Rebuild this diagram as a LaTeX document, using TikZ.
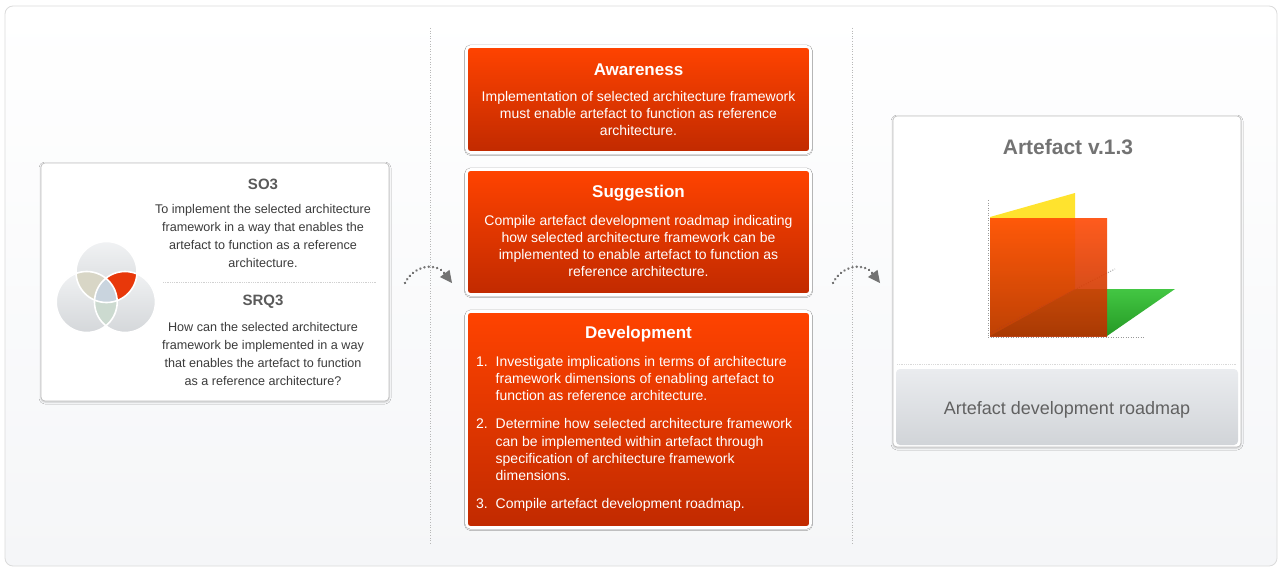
\documentclass[tikz,border=0pt]{standalone}
\usepackage{fontspec}
\setmainfont{Liberation Sans}
\usetikzlibrary{shadows.blur,arrows.meta}

\definecolor{redtop}{HTML}{FF4300}
\definecolor{redbot}{HTML}{C12A00}
\definecolor{panelbot}{HTML}{F5F6F8}
\definecolor{barTop}{HTML}{EAECEF}
\definecolor{barBot}{HTML}{D1D4D8}
\definecolor{txtdark}{HTML}{3C3C3C}
\definecolor{txtgray}{HTML}{5A5A5A}
\definecolor{venngray}{HTML}{E2E5E8}
\definecolor{vennred}{HTML}{E8380A}
\definecolor{vennbeige}{HTML}{D8D6C6}
\definecolor{venngreen}{HTML}{CCDAD0}
\definecolor{vennblue}{HTML}{C9D4DE}
\definecolor{planeyellow}{HTML}{FFE32E}
\definecolor{planegreen}{HTML}{2EC02E}
\definecolor{planered}{HTML}{FF4A05}
\definecolor{planeredbot}{HTML}{B83000}

\begin{document}
\begin{tikzpicture}[x=1pt,y=-1pt,
  panel/.style={rounded corners=8pt, draw=black!14, line width=0.8pt, top color=white, bottom color=panelbot},
  sepline/.style={draw=black!28, line width=0.8pt, dash pattern=on 1pt off 1.6pt},
  card/.style={rectangle, rounded corners=4pt, inner sep=0pt, fill=white, draw=black!25, line width=0.7pt,
    blur shadow={shadow xshift=0pt, shadow yshift=-1pt, shadow blur radius=2pt, shadow opacity=22}},
  redbox/.style={rectangle, rounded corners=4pt, inner sep=0pt, top color=redtop, bottom color=redbot,
    draw=white, line width=2.6pt, preaction={draw=black!25, line width=3.6pt},
    blur shadow={shadow xshift=0pt, shadow yshift=-1pt, shadow blur radius=2pt, shadow opacity=28}},
  bar/.style={rectangle, rounded corners=4pt, inner sep=0pt, top color=barTop, bottom color=barBot},
  boxtitle/.style={font=\bfseries\fontsize{17}{20}\selectfont, text=white, inner sep=0pt},
  boxbody/.style={font=\fontsize{14}{17}\selectfont, text=white, align=center, inner sep=0pt},
  listbody/.style={font=\fontsize{14}{17.3}\selectfont, text=white, align=left, inner sep=0pt, anchor=north west},
  sotitle/.style={font=\bfseries\fontsize{15}{17}\selectfont, text=txtgray, inner sep=0pt},
  sobody/.style={font=\fontsize{12.6}{17.7}\selectfont, text=txtdark, align=center, inner sep=0pt},
  flow/.style={draw=black!55, line width=2.6pt, line cap=round, dash pattern=on 0.1pt off 4.2pt,
    -{Triangle[length=12pt,width=12pt,line width=0pt,color=black!55,fill=black!55]}},
  axis/.style={draw=black!40, line width=1pt, dash pattern=on 1pt off 1.5pt}
]
\useasboundingbox (0,0) rectangle (1279,567);
\fill[white] (0,0) rectangle (1279,567);

% background panel and column separators
\draw[panel] (5,6) rectangle (1277,566);
\draw[sepline] (430,28) -- (430,545);
\draw[sepline] (852,28) -- (852,545);

% ---------- left card: objective and research question ----------
\node[card, minimum width=348pt, minimum height=238pt] (sobox) at (215,282) {};
\node[sotitle] (so) at (263,184) {SO3};
\node[sobody] (sotext) at (263,236) {To implement the selected architecture\\framework in a way that enables the\\artefact to function as a reference\\architecture.};
\draw[draw=black!18, line width=0.6pt, dash pattern=on 0.6pt off 1.2pt] (163,282) -- (377,282);
\node[sotitle] (srq) at (263,302) {SRQ3};
\node[sobody] (srqtext) at (263,354) {How can the selected architecture\\framework be implemented in a way\\that enables the artefact to function\\as a reference architecture?};

% Venn diagram
\coordinate (vt) at (106.5,272);
\coordinate (vl) at (86.7,302);
\coordinate (vr) at (125,302);
\begin{scope}[blur shadow={shadow xshift=0pt, shadow yshift=-1.5pt, shadow blur radius=2pt, shadow opacity=30}]
\fill[venngray] (vl) circle (30.5);
\fill[venngray] (vr) circle (30.5);
\fill[venngray] (vt) circle (30.5);
\end{scope}
\shade[top color=white!50!venngray, bottom color=venngray!94!black] (vl) circle (30.5);
\shade[top color=white!50!venngray, bottom color=venngray!94!black] (vr) circle (30.5);
\shade[top color=white!50!venngray, bottom color=venngray!94!black] (vt) circle (30.5);
\begin{scope}
  \clip (vt) circle (30.5);
  \fill[vennred] (vr) circle (30.5);
  \fill[vennbeige] (vl) circle (30.5);
\end{scope}
\begin{scope}
  \clip (vl) circle (30.5);
  \fill[venngreen] (vr) circle (30.5);
\end{scope}
\begin{scope}
  \clip (vt) circle (30.5);
  \clip (vl) circle (30.5);
  \fill[vennblue] (vr) circle (30.5);
\end{scope}
\draw[draw=white, line width=1.6pt] (vl) circle (30.5);
\draw[draw=white, line width=1.6pt] (vr) circle (30.5);
\draw[draw=white, line width=1.6pt] (vt) circle (30.5);

% ---------- middle column: process steps ----------
\node[redbox, minimum width=344pt, minimum height=106pt] (aware) at (638.5,99.5) {};
\node[boxtitle] (awaretitle) at (638.5,70) {Awareness};
\node[boxbody] (awaretext) at (638.5,113) {Implementation of selected architecture framework\\must enable artefact to function as reference\\architecture.};

\node[redbox, minimum width=344pt, minimum height=125pt] (sugg) at (638.5,232) {};
\node[boxtitle] (suggtitle) at (638.5,193) {Suggestion};
\node[boxbody] (suggtext) at (638.5,246) {Compile artefact development roadmap indicating\\how selected architecture framework can be\\implemented to enable artefact to function as\\reference architecture.};

\node[redbox, minimum width=344pt, minimum height=216pt] (devel) at (638.5,419.5) {};
\node[boxtitle] (develtitle) at (638.5,334) {Development};
\node[listbody] (develtext) at (476,356) {%
\makebox[19.5pt][l]{1.}Investigate implications in terms of architecture\\
\hspace*{19.5pt}framework dimensions of enabling artefact to\\
\hspace*{19.5pt}function as reference architecture.\\[10.5pt]
\makebox[19.5pt][l]{2.}Determine how selected architecture framework\\
\hspace*{19.5pt}can be implemented within artefact through\\
\hspace*{19.5pt}specification of architecture framework\\
\hspace*{19.5pt}dimensions.\\[10.5pt]
\makebox[19.5pt][l]{3.}Compile artefact development roadmap.};

% ---------- flow arrows ----------
\coordinate (f1s) at (405,283);
\coordinate (f1e) at (452,283);
\coordinate (f2s) at (833,283);
\coordinate (f2e) at (880,283);
\draw[flow] (f1s) .. controls (414,265) and (436,262) .. (f1e);
\draw[flow] (f2s) .. controls (842,265) and (864,262) .. (f2e);

% ---------- right card: artefact ----------
\node[card, minimum width=348pt, minimum height=331pt] (art) at (1067,281.5) {};
\node[font=\bfseries\fontsize{21}{24}\selectfont, text=black!55, inner sep=0pt] (arttitle) at (1068,147) {Artefact v.1.3};
\draw[draw=black!15, line width=0.6pt, dash pattern=on 0.6pt off 1.2pt] (897,364) -- (1237,364);
\node[bar, minimum width=342pt, minimum height=76pt] (roadmap) at (1067,407) {};
\node[font=\fontsize{18}{21}\selectfont, text=black!62, inner sep=0pt] (roadmaptext) at (1067,410) {Artefact development roadmap};

% three planes on dotted axes
\draw[axis] (988,200) -- (988,337);
\draw[axis] (988,337) -- (1145,337);
\fill[planeyellow] (990,217) -- (1075,193) -- (1075,289) -- (990,336) -- cycle;
\shade[top color=planegreen!90!white, bottom color=planegreen!80!black] (990,336) -- (1075,289) -- (1175,289) -- (1107,336) -- cycle;
\draw[axis, draw=black!35] (990,333) -- (1115,269);
\begin{scope}[blur shadow={shadow xshift=0pt, shadow yshift=0pt, shadow blur radius=2pt, shadow opacity=20}]
\shade[top color=planered, bottom color=planeredbot, opacity=0.9] (990,218) rectangle (1107,336);
\end{scope}
\end{tikzpicture}
\end{document}
